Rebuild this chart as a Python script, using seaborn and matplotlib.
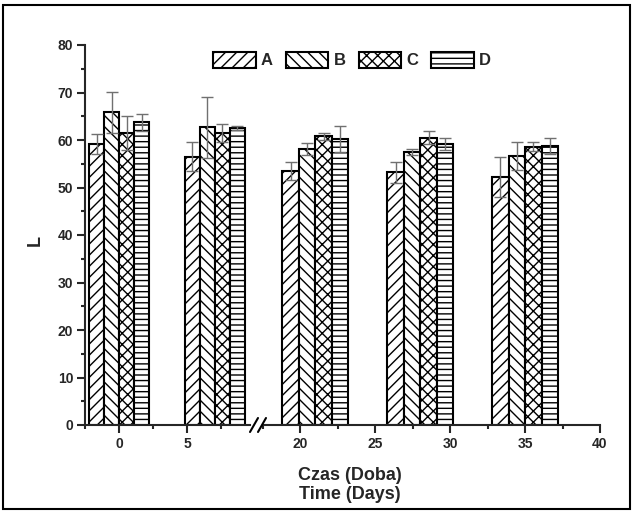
import numpy as np
import pandas as pd
import matplotlib
matplotlib.use("Agg")
import matplotlib.pyplot as plt
from matplotlib.ticker import MultipleLocator
from matplotlib.lines import Line2D
from matplotlib.patches import Rectangle
import seaborn as sns

# data
days = [0, 7, 21, 28, 35]
groups = ["A", "B", "C", "D"]
A_vals = [59.2, 56.5, 53.5, 53.2, 52.3]
A_err = [2.1, 3.1, 1.9, 2.2, 4.2]
B_vals = [65.8, 62.7, 58.1, 57.5, 56.6]
B_err = [4.4, 6.4, 1.2, 0.7, 3.0]
C_vals = [61.5, 61.5, 60.8, 60.5, 58.6]
C_err = [3.5, 1.9, 0.7, 1.4, 0.9]
D_vals = [63.7, 62.5, 60.2, 59.2, 58.8]
D_err = [1.7, 0.4, 2.7, 1.2, 1.7]

vals = {"A": A_vals, "B": B_vals, "C": C_vals, "D": D_vals}
errs = {"A": A_err, "B": B_err, "C": C_err, "D": D_err}
hatches = {"A": "///", "B": "\\\\\\", "C": "xxx", "D": "---"}

rows = []
for g in groups:
    for d, v, e in zip(days, vals[g], errs[g]):
        rows.append({"day": d, "group": g, "L": v, "err": e})
df = pd.DataFrame(rows)

sns.set_style("ticks")
plt.rcParams["font.family"] = ["Liberation Sans", "DejaVu Sans"]
plt.rcParams["font.weight"] = "bold"
plt.rcParams["hatch.linewidth"] = 1.0
plt.rcParams["hatch.color"] = "black"

W, H = 632, 512
fig = plt.figure(figsize=(W / 100, H / 100), dpi=100)
fig.patch.set_facecolor("white")

# two axes = broken x axis
bottom = 1 - 425 / H
height = (425 - 45) / H
ax1 = fig.add_axes([85 / W, bottom, (250 - 85) / W, height])
ax2 = fig.add_axes([263 / W, bottom, (600 - 263) / W, height])

parts = [(ax1, df[df.day <= 7], (-2.5, 9.6)),
         (ax2, df[df.day >= 21], (17.5, 40))]

for ax, sub, xl in parts:
    sns.barplot(data=sub, x="day", y="L", hue="group", hue_order=groups,
                palette=["white"] * 4, native_scale=True, width=4.4 / 7,
                errorbar=None, edgecolor="black", linewidth=1.5,
                legend=False, ax=ax)
    for g, cont in zip(groups, ax.containers):
        e = sub[sub.group == g]["err"].values
        xs, ys = [], []
        for p in cont.patches:
            p.set_hatch(hatches[g])
            xs.append(p.get_x() + p.get_width() / 2)
            ys.append(p.get_height())
        ax.errorbar(xs, ys, yerr=e, fmt="none", ecolor="#707070",
                    elinewidth=1, capsize=4.5, capthick=1, zorder=5)
    ax.set_xlim(*xl)
    ax.set_ylim(0, 80)
    ax.xaxis.set_major_locator(MultipleLocator(5))
    ax.xaxis.set_minor_locator(MultipleLocator(2.5))
    ax.set_xlabel("")
    ax.set_ylabel("")
    ax.spines["top"].set_visible(False)
    ax.spines["right"].set_visible(False)
    ax.spines["bottom"].set_linewidth(1.5)
    ax.tick_params(axis="both", which="major", direction="out", length=5.5,
                   width=1.5, labelsize=10, pad=3)
    ax.tick_params(axis="both", which="minor", direction="out", length=3,
                   width=1.5)
    for t in ax.get_xticklabels() + ax.get_yticklabels():
        t.set_fontweight("bold")

ax1.spines["left"].set_linewidth(1.5)
ax1.yaxis.set_major_locator(MultipleLocator(10))
ax1.yaxis.set_minor_locator(MultipleLocator(5))
ax2.spines["left"].set_visible(False)
ax2.tick_params(axis="y", which="both", left=False, labelleft=False)

# axis break marks
for x0 in (250, 258):
    fig.add_artist(Line2D([x0 / W, (x0 + 8) / W], [1 - 432 / H, 1 - 418 / H],
                          color="black", lw=1.5, transform=fig.transFigure))

# legend
handles = [ax1.containers[i].patches[0] for i in range(4)]
fig.legend(handles, groups, loc="center", bbox_to_anchor=(352 / W, 1 - 60 / H),
           ncol=4, frameon=False, handlelength=2.55, handleheight=1.15,
           handletextpad=0.3, columnspacing=0.8,
           prop={"size": 12, "weight": "bold"})

fig.text(350 / W, 1 - 485 / H, "Czas (Doba)\nTime (Days)", ha="center",
         va="center", ma="center", fontsize=13, fontweight="bold")
fig.text(35 / W, 1 - 240 / H, "L", rotation=90, ha="center", va="center",
         fontsize=13, fontweight="bold")

fig.add_artist(Rectangle((3 / W, 3 / H), 627 / W, 504 / H, fill=False,
                         edgecolor="black", lw=1.5, transform=fig.transFigure))

fig.savefig("out.png", dpi=100)
